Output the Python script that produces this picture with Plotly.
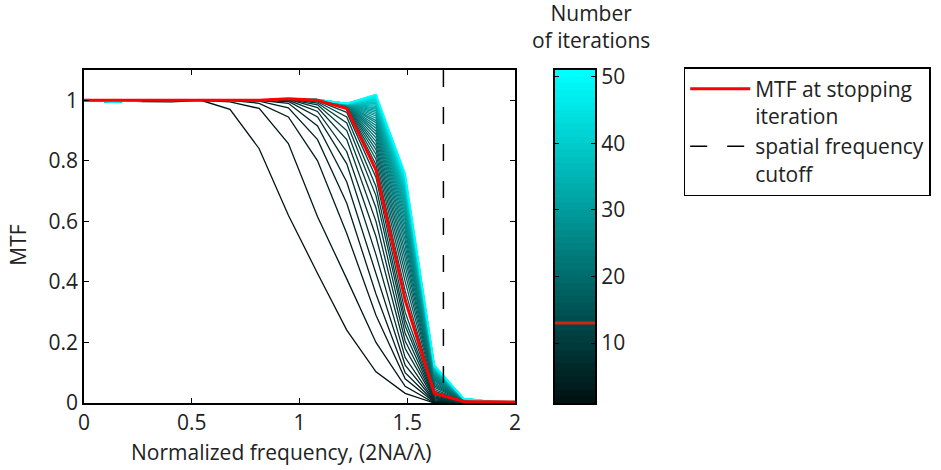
import plotly.graph_objects as go
from plotly.colors import sample_colorscale

# Normalized spatial frequency samples (2NA/lambda)
freq = [0.0, 0.1355, 0.271, 0.4065, 0.542, 0.6775, 0.813, 0.9485,
        1.084, 1.2195, 1.355, 1.4905, 1.626, 1.7615, 1.897, 2.0325]

iterations = list(range(1, 51))
stop_iteration = 13
cutoff = 1.668

# MTF per iteration (one row per iteration, one value per frequency sample)
mtf = [
    [1, 1, 0.996, 0.995, 1, 0.970, 0.840, 0.620, 0.428, 0.241, 0.103, 0.032, 0.000, 0, 0, 0],
    [1, 1, 1, 1, 1, 0.995, 0.973, 0.857, 0.615, 0.410, 0.200, 0.055, 0.000, 0, 0, 0],
    [1, 1, 1, 1, 1, 1, 0.990, 0.945, 0.800, 0.560, 0.290, 0.080, 0.002, 0, 0, 0],
    [1, 1, 1, 1, 1, 1, 0.997, 0.975, 0.870, 0.660, 0.360, 0.100, 0.004, 0, 0, 0],
    [1, 1, 1, 1, 1, 1, 1, 0.990, 0.915, 0.730, 0.430, 0.125, 0.006, 0, 0, 0],
    [1, 1, 1, 1, 1, 1, 1, 0.996, 0.945, 0.790, 0.490, 0.150, 0.008, 0, 0, 0],
    [1, 1, 1, 1, 1, 1, 1, 1.000, 0.963, 0.830, 0.550, 0.180, 0.011, 0, 0, 0],
    [1, 1, 1, 1, 1, 1, 1, 1.003, 0.976, 0.870, 0.600, 0.205, 0.014, 0, 0, 0],
    [1, 1, 1, 1, 1, 1, 1, 1.003, 0.985, 0.900, 0.645, 0.230, 0.017, 0, 0, 0],
    [1, 1, 1, 1, 1, 1, 1, 1.004, 0.991, 0.925, 0.685, 0.255, 0.020, 0, 0, 0],
    [1, 1, 1, 1, 1, 1, 1, 1.004, 0.995, 0.945, 0.715, 0.275, 0.024, 0, 0, 0],
    [1, 1, 1, 1, 1, 1, 1, 1.005, 0.998, 0.960, 0.745, 0.300, 0.028, 0, 0, 0],
    [1, 1, 1, 1, 1, 1, 1, 1.005, 1.000, 0.973, 0.769, 0.340, 0.032, 0.005, 0.003, 0.003],
    [1, 0.995, 1, 1, 1, 1, 1, 1.005, 1.002, 0.974, 0.788, 0.371, 0.039, 0.006, 0.004, 0.004],
    [1, 0.995, 1, 1, 1, 1, 1, 1.005, 1.002, 0.975, 0.805, 0.401, 0.045, 0.006, 0.004, 0.004],
    [1, 0.995, 1, 1, 1, 1, 1, 1.005, 1.002, 0.977, 0.822, 0.428, 0.052, 0.007, 0.004, 0.004],
    [1, 0.995, 1, 1, 1, 1, 1, 1.005, 1.002, 0.978, 0.837, 0.453, 0.057, 0.008, 0.004, 0.004],
    [1, 0.995, 1, 1, 1, 1, 1, 1.005, 1.002, 0.979, 0.851, 0.477, 0.062, 0.008, 0.004, 0.004],
    [1, 0.995, 1, 1, 1, 1, 1, 1.005, 1.002, 0.979, 0.864, 0.498, 0.067, 0.009, 0.004, 0.004],
    [1, 0.995, 1, 1, 1, 1, 1, 1.005, 1.002, 0.980, 0.876, 0.519, 0.072, 0.009, 0.004, 0.004],
    [1, 0.995, 1, 1, 1, 1, 1, 1.005, 1.002, 0.981, 0.888, 0.538, 0.076, 0.010, 0.004, 0.004],
    [1, 0.995, 1, 1, 1, 1, 1, 1.005, 1.002, 0.982, 0.898, 0.555, 0.080, 0.010, 0.004, 0.004],
    [1, 0.995, 1, 1, 1, 1, 1, 1.005, 1.002, 0.982, 0.908, 0.572, 0.084, 0.011, 0.004, 0.004],
    [1, 0.995, 1, 1, 1, 1, 1, 1.005, 1.002, 0.983, 0.917, 0.587, 0.087, 0.011, 0.004, 0.004],
    [1, 0.995, 1, 1, 1, 1, 1, 1.005, 1.002, 0.984, 0.926, 0.601, 0.090, 0.011, 0.004, 0.004],
    [1, 0.995, 1, 1, 1, 1, 1, 1.005, 1.002, 0.984, 0.933, 0.614, 0.093, 0.012, 0.004, 0.004],
    [1, 0.995, 1, 1, 1, 1, 1, 1.005, 1.002, 0.985, 0.941, 0.626, 0.096, 0.012, 0.004, 0.004],
    [1, 0.995, 1, 1, 1, 1, 1, 1.005, 1.002, 0.985, 0.948, 0.638, 0.098, 0.012, 0.004, 0.004],
    [1, 0.995, 1, 1, 1, 1, 1, 1.005, 1.002, 0.986, 0.954, 0.648, 0.101, 0.012, 0.004, 0.004],
    [1, 0.995, 1, 1, 1, 1, 1, 1.005, 1.002, 0.986, 0.960, 0.658, 0.103, 0.013, 0.004, 0.004],
    [1, 0.995, 1, 1, 1, 1, 1, 1.005, 1.002, 0.986, 0.966, 0.667, 0.105, 0.013, 0.004, 0.004],
    [1, 0.995, 1, 1, 1, 1, 1, 1.005, 1.002, 0.987, 0.971, 0.676, 0.107, 0.013, 0.004, 0.004],
    [1, 0.995, 1, 1, 1, 1, 1, 1.005, 1.002, 0.987, 0.975, 0.684, 0.108, 0.013, 0.004, 0.004],
    [1, 0.995, 1, 1, 1, 1, 1, 1.005, 1.002, 0.987, 0.980, 0.691, 0.110, 0.013, 0.004, 0.004],
    [1, 0.995, 1, 1, 1, 1, 1, 1.005, 1.002, 0.988, 0.984, 0.698, 0.112, 0.014, 0.004, 0.004],
    [1, 0.995, 1, 1, 1, 1, 1, 1.005, 1.002, 0.988, 0.988, 0.704, 0.113, 0.014, 0.004, 0.004],
    [1, 0.995, 1, 1, 1, 1, 1, 1.005, 1.002, 0.988, 0.991, 0.710, 0.114, 0.014, 0.004, 0.004],
    [1, 0.995, 1, 1, 1, 1, 1, 1.005, 1.002, 0.988, 0.994, 0.715, 0.116, 0.014, 0.004, 0.004],
    [1, 0.995, 1, 1, 1, 1, 1, 1.005, 1.002, 0.988, 0.998, 0.721, 0.117, 0.014, 0.004, 0.004],
    [1, 0.995, 1, 1, 1, 1, 1, 1.005, 1.002, 0.989, 1.000, 0.725, 0.118, 0.014, 0.004, 0.004],
    [1, 0.995, 1, 1, 1, 1, 1, 1.005, 1.002, 0.989, 1.003, 0.730, 0.119, 0.014, 0.004, 0.004],
    [1, 0.995, 1, 1, 1, 1, 1, 1.005, 1.002, 0.989, 1.005, 0.734, 0.120, 0.014, 0.004, 0.004],
    [1, 0.995, 1, 1, 1, 1, 1, 1.005, 1.002, 0.989, 1.008, 0.738, 0.121, 0.015, 0.004, 0.004],
    [1, 0.995, 1, 1, 1, 1, 1, 1.005, 1.002, 0.989, 1.010, 0.741, 0.121, 0.015, 0.004, 0.004],
    [1, 0.995, 1, 1, 1, 1, 1, 1.005, 1.002, 0.989, 1.012, 0.745, 0.122, 0.015, 0.004, 0.004],
    [1, 0.995, 1, 1, 1, 1, 1, 1.005, 1.002, 0.990, 1.014, 0.748, 0.123, 0.015, 0.004, 0.004],
    [1, 0.995, 1, 1, 1, 1, 1, 1.005, 1.002, 0.990, 1.015, 0.750, 0.123, 0.015, 0.004, 0.004],
    [1, 0.995, 1, 1, 1, 1, 1, 1.005, 1.002, 0.990, 1.017, 0.753, 0.124, 0.015, 0.004, 0.004],
    [1, 0.995, 1, 1, 1, 1, 1, 1.005, 1.002, 0.990, 1.019, 0.756, 0.125, 0.015, 0.004, 0.004],
    [1, 0.995, 1, 1, 1, 1, 1, 1.005, 1.002, 0.990, 1.020, 0.758, 0.125, 0.015, 0.005, 0.005],
]

x_ticks = [0, 0.5, 1, 1.5, 2]
y_ticks = [0, 0.2, 0.4, 0.6, 0.8, 1]
cbar_ticks = [10, 20, 30, 40, 50]

FONT = "Open Sans"
FS = 21
TEXT = "#222222"
colorscale = [[0.0, "rgb(0,18,18)"], [1.0, "rgb(0,255,255)"]]
n_min, n_max = iterations[0], iterations[-1]
line_colors = sample_colorscale(colorscale, [(n - n_min) / (n_max - n_min) for n in iterations])

fig = go.Figure()

# one curve per iteration, darkest first
for n, row, col in zip(iterations, mtf, line_colors):
    fig.add_trace(go.Scatter(x=freq, y=row, mode="lines",
                             line=dict(color=col, width=1.3),
                             showlegend=False, hoverinfo="skip"))

fig.add_trace(go.Scatter(x=freq, y=mtf[iterations.index(stop_iteration)], mode="lines",
                         line=dict(color="#ff0000", width=3),
                         name="MTF at stopping<br>iteration"))

fig.add_trace(go.Scatter(x=[cutoff, cutoff], y=[1.1, 0], mode="lines",
                         line=dict(color="black", width=1.5, dash="17px,20px"),
                         name="spatial frequency<br>cutoff"))

# colour bar drawn as a one-column heatmap on its own axes
fig.add_trace(go.Heatmap(z=[[n] for n in iterations], x=[0],
                         y=[n + 0.5 for n in iterations],
                         colorscale=colorscale, zmin=n_min, zmax=n_max,
                         showscale=False, hoverinfo="skip",
                         xaxis="x2", yaxis="y2"))
fig.add_trace(go.Scatter(x=[-0.5, 0.5], y=[stop_iteration, stop_iteration], mode="lines",
                         line=dict(color="rgb(205,40,20)", width=3),
                         showlegend=False, hoverinfo="skip",
                         xaxis="x2", yaxis="y2"))

axis_common = dict(showline=True, linecolor="black", linewidth=1.5, showgrid=False,
                   zeroline=False, ticks="inside", ticklen=5, tickcolor="black",
                   mirror="ticks", tickfont=dict(size=FS, color=TEXT))

fig.update_layout(
    width=941, height=470,
    margin=dict(l=84, r=0, t=70, b=67),
    paper_bgcolor="white", plot_bgcolor="white",
    font=dict(family=FONT, size=FS, color=TEXT),
    xaxis=dict(domain=[0, 0.5064], range=[0, 2], tickvals=x_ticks,
               ticktext=[f"{v:g}" for v in x_ticks], **axis_common),
    yaxis=dict(domain=[0, 1], range=[0, 1.1], tickvals=y_ticks,
               ticktext=[f"{v:g}" for v in y_ticks], **axis_common),
    xaxis2=dict(domain=[0.5531, 0.6009], range=[-0.5, 0.5], anchor="y2",
                showticklabels=False, showline=True, linecolor="black", linewidth=1.5,
                mirror=True, showgrid=False, zeroline=False, ticks=""),
    yaxis2=dict(domain=[0, 1], range=[1, 51], anchor="x2", side="right",
                tickvals=cbar_ticks, **axis_common),
    legend=dict(x=0.7047, y=1.009, xanchor="left", yanchor="top",
                bordercolor="black", borderwidth=1.5, bgcolor="white",
                font=dict(size=FS, color=TEXT), valign="top",
                itemwidth=60, tracegroupgap=0),
    annotations=[
        dict(text="Number<br>of iterations", x=0.596, y=1.13,
             xref="paper", yref="paper", xanchor="center", yanchor="middle",
             showarrow=False, font=dict(size=FS, color=TEXT)),
        # axis titles
        dict(text="Normalized frequency, (2NA/λ)", x=0.232, y=-0.147,
             xref="paper", yref="paper", xanchor="center", yanchor="middle",
             showarrow=False, font=dict(size=FS, color=TEXT)),
        dict(text="MTF", x=-0.077, y=0.474, textangle=-90,
             xref="paper", yref="paper", xanchor="center", yanchor="middle",
             showarrow=False, font=dict(size=FS, color=TEXT)),
    ],
)

fig.write_html("out.html")
